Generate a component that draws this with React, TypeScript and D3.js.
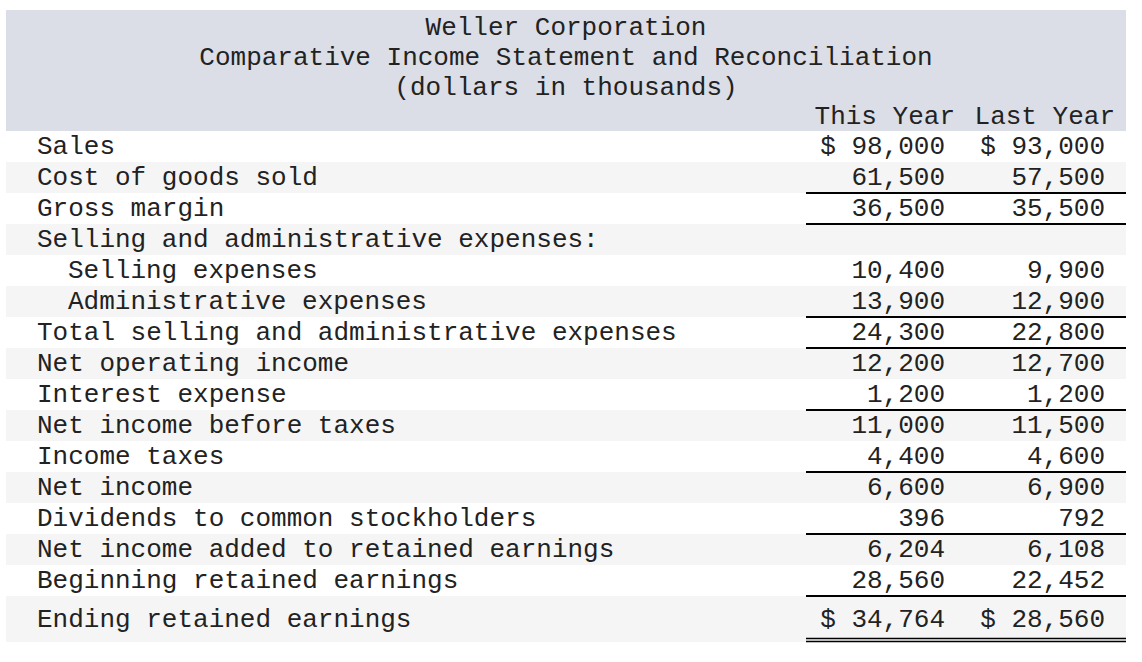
import React from "react";
import * as d3 from "d3";

const titleLines = [
  "Weller Corporation",
  "Comparative Income Statement and Reconciliation",
  "(dollars in thousands)",
];
const columns = ["This Year", "Last Year"];
const labels = [
  "Sales",
  "Cost of goods sold",
  "Gross margin",
  "Selling and administrative expenses:",
  "Selling expenses",
  "Administrative expenses",
  "Total selling and administrative expenses",
  "Net operating income",
  "Interest expense",
  "Net income before taxes",
  "Income taxes",
  "Net income",
  "Dividends to common stockholders",
  "Net income added to retained earnings",
  "Beginning retained earnings",
  "Ending retained earnings",
];
const indents = [0, 0, 0, 0, 1, 1, 0, 0, 0, 0, 0, 0, 0, 0, 0, 0];
const thisYear: (number | null)[] = [
  98000, 61500, 36500, null, 10400, 13900, 24300, 12200, 1200, 11000, 4400, 6600, 396, 6204, 28560, 34764,
];
const lastYear: (number | null)[] = [
  93000, 57500, 35500, null, 9900, 12900, 22800, 12700, 1200, 11500, 4600, 6900, 792, 6108, 22452, 28560,
];
const dollarRows = [0, 15];
const underlineRows = [1, 2, 5, 6, 8, 10, 12, 14];
const doubleUnderlineRows = [15];

const W = 1142;
const H = 662;
const FONT = "'Liberation Mono', 'Courier New', monospace";
const FS = 26;
const TXT = "#222222";

export default function App() {
  const fmt = d3.format(",");
  const rowTop = d3.scaleLinear().domain([0, 1]).range([131, 162]);
  const lastH = 46;
  const rowH = rowTop(1) - rowTop(0);
  const xCol = d3.scaleBand<string>().domain(columns).range([806, 1126]);
  const left = 6;
  const right = 1126;
  const labelX = d3.scaleLinear().domain([0, 1]).range([37, 68]);
  const series = [thisYear, lastYear];
  const n = labels.length;
  const heightOf = (i: number) => (i === n - 1 ? lastH : rowH);
  const baselineOf = (i: number) => (i === n - 1 ? rowTop(i) + 31 : rowTop(i) + 23.3);

  return (
    <svg
      width={W}
      height={H}
      style={{ position: "absolute", left: 0, top: 0, display: "block", background: "#ffffff" }}
      fontFamily={FONT}
      fontSize={FS}
    >
      <rect x={left} y={10} width={right - left} height={121} fill="#dbdee6" />
      {titleLines.map((t, i) => (
        <text key={t} x={(left + right) / 2} y={35 + i * 30} textAnchor="middle" fill={TXT}>
          {t}
        </text>
      ))}
      {columns.map((c) => (
        <text key={c} x={(xCol(c) as number) + xCol.bandwidth() - 11} y={124} textAnchor="end" fill={TXT}>
          {c}
        </text>
      ))}
      {labels.map((_, i) =>
        i % 2 === 1 ? (
          <rect key={"s" + i} x={left} y={rowTop(i)} width={right - left} height={heightOf(i)} fill="#f5f5f5" />
        ) : null
      )}
      {labels.map((l, i) => (
        <text key={"l" + i} x={labelX(indents[i])} y={baselineOf(i)} fill={TXT}>
          {l}
        </text>
      ))}
      {columns.map((c, ci) =>
        series[ci].map((v, i) =>
          v === null ? null : (
            <text
              key={c + i}
              x={(xCol(c) as number) + xCol.bandwidth() - 21}
              y={baselineOf(i)}
              textAnchor="end"
              fill={TXT}
              style={{ whiteSpace: "pre" }}
            >
              {(dollarRows.includes(i) ? "$ " : "") + fmt(v)}
            </text>
          )
        )
      )}
      {underlineRows.map((i) => (
        <line
          key={"u" + i}
          x1={xCol(columns[0])}
          x2={(xCol(columns[1]) as number) + xCol.bandwidth()}
          y1={rowTop(i + 1)}
          y2={rowTop(i + 1)}
          stroke="#000"
          strokeWidth={2}
        />
      ))}
      {doubleUnderlineRows.map((i) => (
        <g key={"d" + i}>
          {[-3.5, -0.5].map((o) => (
            <line
              key={o}
              x1={xCol(columns[0])}
              x2={(xCol(columns[1]) as number) + xCol.bandwidth()}
              y1={rowTop(i) + heightOf(i) + o}
              y2={rowTop(i) + heightOf(i) + o}
              stroke="#000"
              strokeWidth={1.3}
            />
          ))}
        </g>
      ))}
    </svg>
  );
}
